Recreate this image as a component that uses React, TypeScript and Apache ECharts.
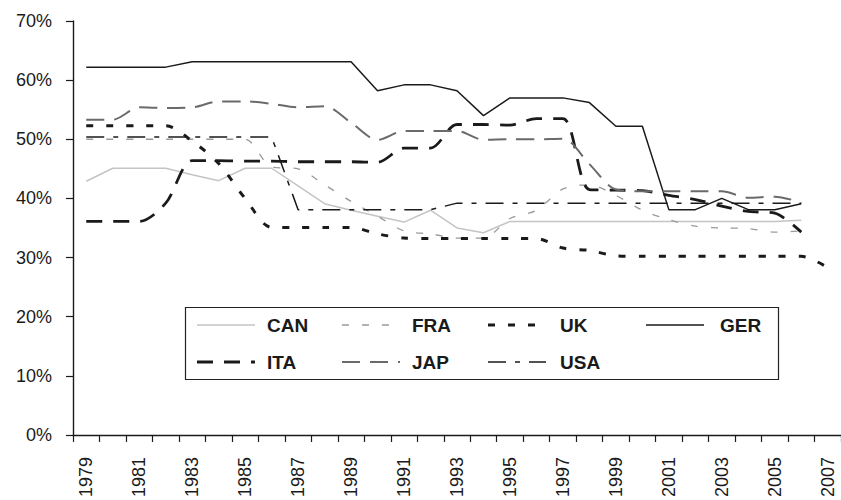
import React, { useEffect, useRef } from "react";
import * as echarts from "echarts";

const years = [
  "1979", "1980", "1981", "1982", "1983", "1984", "1985", "1986", "1987", "1988",
  "1989", "1990", "1991", "1992", "1993", "1994", "1995", "1996", "1997", "1998",
  "1999", "2000", "2001", "2002", "2003", "2004", "2005", "2006", "2007",
];

const CAN = [42.9, 45.1, 45.1, 45.1, 44, 43, 45.1, 45.1, 42.1, 39.1, 38, 37, 36, 38, 35, 34.2,
  36.1, 36.1, 36.1, 36.1, 36.1, 36.1, 36.1, 36.1, 36.1, 36.1, 36.1, 36.3, null];
const FRA = [50, 50, 50, 50, 50, 50, 50, 45.3, 45, 42.3, 39.5, 37, 34.5, 34, 33.3, 33.3,
  36.6, 38, 41.6, 42.3, 40.5, 38, 36.4, 35.3, 35, 34.9, 34.3, 34.5, null];
const UK = [52.3, 52.3, 52.3, 52.3, 49.7, 45.9, 40, 35.1, 35.1, 35.1, 35.1, 34, 33.3, 33.2, 33.2, 33.2,
  33.2, 33.2, 31.6, 31.2, 30.3, 30.2, 30.2, 30.2, 30.2, 30.2, 30.2, 30.2, 28.3];
const GER = [62.2, 62.2, 62.2, 62.2, 63.1, 63.1, 63.1, 63.1, 63.1, 63.1, 63.1, 58.2, 59.2, 59.2, 58.2, 54,
  57, 57, 57, 56.2, 52.2, 52.2, 38.1, 38.1, 40, 38.1, 38.1, 39.1, null];
const ITA = [36.1, 36.1, 36.1, 39.2, 46.4, 46.4, 46.3, 46.3, 46.2, 46.2, 46.2, 46.1, 48.5, 48.5, 52.5, 52.5,
  52.4, 53.5, 53.5, 41.5, 41.4, 41.3, 40.5, 39.8, 38.7, 37.8, 37.5, 34.3, null];
const JAP = [53.3, 53.3, 55.4, 55.3, 55.4, 56.4, 56.4, 56, 55.4, 55.6, 52.8, 49.9, 51.4, 51.4, 51.4, 49.9,
  50, 50, 50.1, 45.8, 41.5, 41.2, 41.2, 41.2, 41.2, 40.1, 40.3, 39.3, null];
const USA = [50.4, 50.4, 50.4, 50.4, 50.4, 50.4, 50.4, 50.4, 38.1, 38.1, 38.1, 38.1, 38.1, 38.1, 39.2, 39.2,
  39.2, 39.2, 39.2, 39.2, 39.2, 39.2, 39.2, 39.2, 39.2, 39.2, 39.2, 39.2, null];

const yTicks = { min: 0, max: 70, interval: 10 };

const FONT = '"Liberation Sans", Arial, sans-serif';

const seriesDefs = [
  { name: "CAN", data: CAN, color: "#c4c4c4", width: 1.5, dash: "solid" as any, smooth: false, col: 0, row: 0 },
  { name: "FRA", data: FRA, color: "#9a9a9a", width: 1.3, dash: [7, 13], smooth: true, col: 1, row: 0 },
  { name: "UK", data: UK, color: "#1a1a1a", width: 3, dash: [7, 13], smooth: true, col: 2, row: 0 },
  { name: "GER", data: GER, color: "#1a1a1a", width: 1.5, dash: "solid" as any, smooth: false, col: 3, row: 0 },
  { name: "ITA", data: ITA, color: "#1a1a1a", width: 2.8, dash: [16, 11], smooth: true, col: 0, row: 1 },
  { name: "JAP", data: JAP, color: "#6a6a6a", width: 2, dash: [18, 10], smooth: true, col: 1, row: 1 },
  { name: "USA", data: USA, color: "#1a1a1a", width: 1.5, dash: [18, 9, 5, 9], smooth: false, col: 2, row: 1 },
];

export default function App() {
  const ref = useRef<HTMLDivElement>(null);
  useEffect(() => {
    const chart = echarts.init(ref.current!, null, { renderer: "svg" });

    const sampleX = [197, 342, 488, 646];
    const sampleW = 58;
    const textX = [267, 412, 560, 720];
    const rowY = [325, 362];

    const legendGraphics: any[] = [
      {
        type: "rect",
        shape: { x: 185.5, y: 307.5, width: 593, height: 72 },
        style: { fill: "#fff", stroke: "#222", lineWidth: 1.2 },
        z: 100,
      },
    ];
    seriesDefs.forEach((s) => {
      legendGraphics.push({
        type: "line",
        shape: { x1: sampleX[s.col], y1: rowY[s.row], x2: sampleX[s.col] + sampleW, y2: rowY[s.row] },
        style: {
          stroke: s.color,
          lineWidth: s.width,
          lineDash: Array.isArray(s.dash) ? s.dash : null,
        },
        z: 101,
      });
      legendGraphics.push({
        type: "text",
        x: textX[s.col],
        y: rowY[s.row],
        style: {
          text: s.name,
          fontSize: 19,
          fontWeight: "bold",
          fontFamily: FONT,
          fill: "#1a1a1a",
          verticalAlign: "middle",
          align: "left",
        },
        z: 101,
      });
    });

    chart.setOption({
      animation: false,
      backgroundColor: "#fff",
      grid: { left: 73, right: -10, top: 21, bottom: 64, containLabel: false },
      xAxis: {
        type: "category",
        data: years,
        boundaryGap: true,
        axisLine: { show: true, lineStyle: { color: "#1a1a1a", width: 1.4 } },
        axisTick: { show: true, interval: 0, alignWithLabel: false, length: 7, lineStyle: { color: "#1a1a1a", width: 1.2 } },
        axisLabel: {
          interval: 1,
          rotate: 90,
          margin: 22,
          fontSize: 18,
          fontFamily: FONT,
          color: "#1a1a1a",
        },
        splitLine: { show: false },
      },
      yAxis: {
        type: "value",
        min: yTicks.min,
        max: yTicks.max,
        interval: yTicks.interval,
        axisLine: { show: true, lineStyle: { color: "#1a1a1a", width: 1.4 } },
        axisTick: { show: true, length: 7, lineStyle: { color: "#1a1a1a", width: 1.2 } },
        axisLabel: {
          formatter: "{value}%",
          margin: 21,
          fontSize: 18,
          fontFamily: FONT,
          color: "#1a1a1a",
        },
        splitLine: { show: false },
      },
      series: seriesDefs.map((s) => ({
        name: s.name,
        type: "line",
        data: s.data,
        symbol: "none",
        showSymbol: false,
        smooth: s.smooth ? 0.3 : false,
        connectNulls: false,
        lineStyle: { color: s.color, width: s.width, type: s.dash },
        emphasis: { disabled: true },
      })),
      graphic: legendGraphics,
    });
    return () => chart.dispose();
  }, []);
  return <div ref={ref} style={{ position: "absolute", left: 0, top: 0, width: 841, height: 500 }} />;
}
